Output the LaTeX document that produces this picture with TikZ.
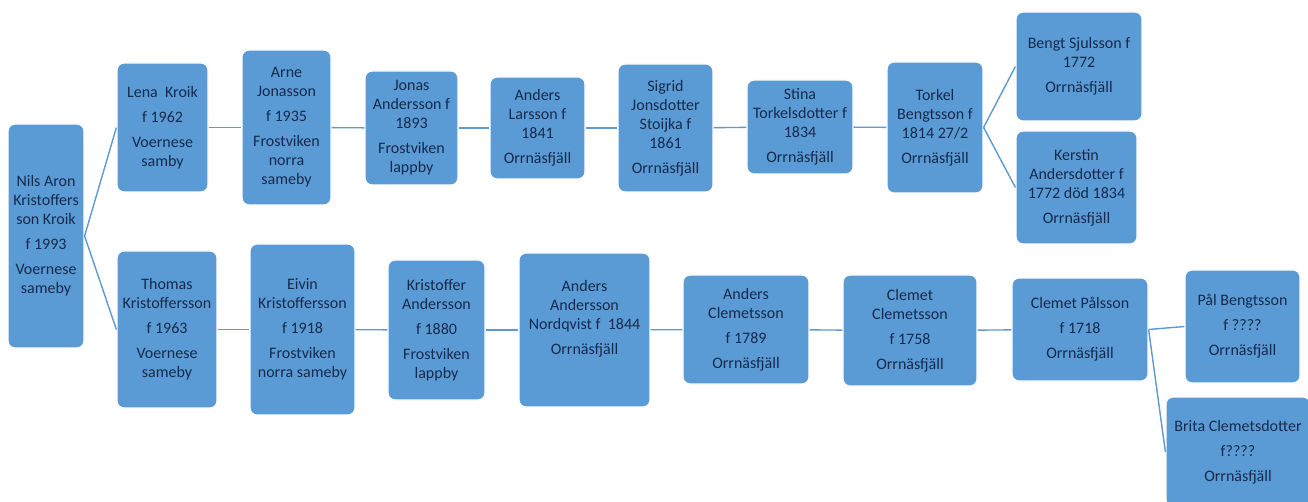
\documentclass[tikz,border=0pt]{standalone}
\usepackage{fontspec}
\setmainfont{Carlito}
\definecolor{boxblue}{RGB}{91,155,213}
\definecolor{txtnavy}{RGB}{22,42,76}
\definecolor{linkblue}{RGB}{96,152,210}
\begin{document}
\begin{tikzpicture}[x=1pt,y=-1pt,
  box/.style={draw=white, line width=1.2pt, fill=boxblue, rounded corners=7pt,
    text=txtnavy, align=center, inner sep=0pt, font=\fontsize{16}{19}\selectfont},
  link/.style={draw=linkblue, line width=1.4pt}]
\useasboundingbox (0,0) rectangle (1308,502);
% root
\node[box, minimum width=76, minimum height=224] (root) at (46,236)
  {Nils Aron\\Kristoffers\\son Kroik\\[6pt]f 1993\\[6pt]Voernese\\sameby};
% top row
\node[box, minimum width=91, minimum height=129] (lena) at (162.5,127.5)
  {Lena\ \ Kroik\\[6pt]f 1962\\[6pt]Voernese\\samby};
\node[box, minimum width=89, minimum height=155] (arne) at (286.5,127.5)
  {Arne\\Jonasson\\[6pt]f 1935\\[6pt]Frostviken\\norra\\sameby};
\node[box, minimum width=93, minimum height=114] (jonas) at (411.5,128)
  {Jonas\\Andersson f\\1893\\[6pt]Frostviken\\lappby};
\node[box, minimum width=95, minimum height=102] (andersl) at (537.5,128)
  {Anders\\Larsson f\\1841\\[6pt]Orrnäsfjäll};
\node[box, minimum width=95, minimum height=128] (sigrid) at (665.5,128)
  {Sigrid\\Jonsdotter\\Stoijka f\\1861\\[6pt]Orrnäsfjäll};
\node[box, minimum width=106, minimum height=94] (stina) at (800,127)
  {Stina\\Torkelsdotter f\\1834\\[6pt]Orrnäsfjäll};
\node[box, minimum width=96, minimum height=131] (torkel) at (935,127.5)
  {Torkel\\Bengtsson f\\1814 27/2\\[6pt]Orrnäsfjäll};
\node[box, minimum width=126, minimum height=109] (bengt) at (1079,66.5)
  {Bengt Sjulsson f\\1772\\[6pt]Orrnäsfjäll};
\node[box, minimum width=121, minimum height=113] (kerstin) at (1076.5,187.5)
  {Kerstin\\Andersdotter f\\1772 död 1834\\[6pt]Orrnäsfjäll};
% bottom row
\node[box, minimum width=100, minimum height=157] (thomas) at (167,329.5)
  {Thomas\\Kristoffersson\\[6pt]f 1963\\[6pt]Voernese\\sameby};
\node[box, minimum width=105, minimum height=171] (eivin) at (302.5,329.5)
  {Eivin\\Kristoffersson\\[6pt]f 1918\\[6pt]Frostviken\\norra sameby};
\node[box, minimum width=97, minimum height=140] (kristoffer) at (436.5,330)
  {Kristoffer\\Andersson\\[6pt]f 1880\\[6pt]Frostviken\\lappby};
\node[box, minimum width=131, minimum height=154] (andersa) at (584.5,330)
  {Anders\\Andersson\\Nordqvist f\ \ 1844\\[6pt]Orrnäsfjäll\\[6pt]\mbox{}};
\node[box, minimum width=126, minimum height=109] (andersc) at (746,329.5)
  {Anders\\Clemetsson\\[6pt]f 1789\\[6pt]Orrnäsfjäll};
\node[box, minimum width=134, minimum height=111] (clemetc) at (910,330.5)
  {Clemet\\Clemetsson\\[6pt]f 1758\\[6pt]Orrnäsfjäll};
\node[box, minimum width=136, minimum height=103] (clemetp) at (1080,329.5)
  {Clemet Pålsson\\[6pt]f 1718\\[6pt]Orrnäsfjäll};
\node[box, minimum width=115, minimum height=113] (pal) at (1242.5,326.5)
  {Pål Bengtsson\\[6pt]f ????\\[6pt]Orrnäsfjäll};
\node[box, minimum width=144, minimum height=110] (brita) at (1238,452)
  {Brita Clemetsdotter\\[6pt]f????\\[6pt]Orrnäsfjäll};
% connectors
\draw[link] (root.east) -- (lena.west);
\draw[link] (root.east) -- (thomas.west);
\draw[link] (lena) -- (arne);
\draw[link] (arne) -- (jonas);
\draw[link] (jonas) -- (andersl);
\draw[link] (andersl) -- (sigrid);
\draw[link] (sigrid) -- (stina);
\draw[link] (stina) -- (torkel);
\draw[link] (torkel.east) -- (bengt.west);
\draw[link] (torkel.east) -- (kerstin.west);
\draw[link] (thomas) -- (eivin);
\draw[link] (eivin) -- (kristoffer);
\draw[link] (kristoffer) -- (andersa);
\draw[link] (andersa) -- (andersc);
\draw[link] (andersc) -- (clemetc);
\draw[link] (clemetc) -- (clemetp);
\draw[link] (clemetp.east) -- (pal.west);
\draw[link] (clemetp.east) -- (brita.west);
\end{tikzpicture}
\end{document}
